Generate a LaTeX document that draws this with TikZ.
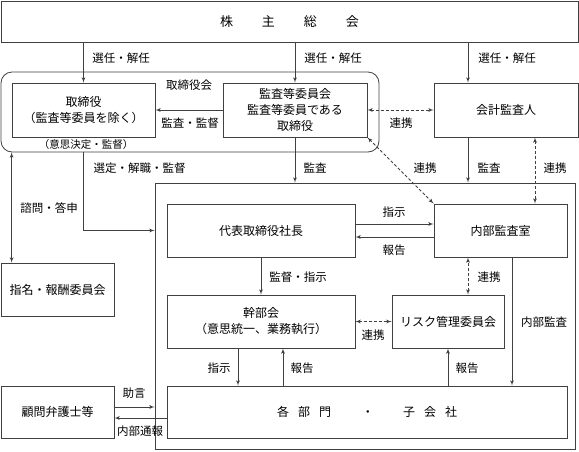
\documentclass[tikz,border=0pt]{standalone}
\usepackage{fontspec}
\setmainfont{Noto Sans CJK JP}
\usetikzlibrary{shapes,arrows}
\tikzstyle{block} = [rectangle, draw=black!75, fill=white, align=center, inner sep=0pt, font=\fontsize{12}{16}\selectfont]
\tikzstyle{frame} = [rectangle, draw=black!75, inner sep=0pt]
\tikzstyle{lbl} = [inner sep=0pt, font=\fontsize{11.5}{14}\selectfont]
\tikzstyle{line} = [draw=black!75, -latex']
\tikzstyle{link} = [draw=black!75, dash pattern=on 3pt off 2pt, latex'-latex']

\begin{document}
\begin{tikzpicture}[x=1pt, y=-1pt, line width=0.8pt]
\useasboundingbox (0,0) rectangle (579,451);
% frames
\node [frame, rounded corners=11pt, minimum width=378pt, minimum height=80pt] (board) at (190,112) {};
\node [frame, minimum width=420pt, minimum height=266pt] (shikkou) at (365,316) {};
% boxes
\node [block, minimum width=577pt, minimum height=41pt, font=\fontsize{13}{16}\selectfont] (soukai) at (289.5,21.5) {株\hspace{29pt}主\hspace{29pt}総\hspace{29pt}会};
\node [block, minimum width=143pt, minimum height=54pt] (torishimari) at (83.5,110) {取締役\\（監査等委員を除く）};
\node [block, minimum width=144pt, minimum height=54pt] (kansaiin) at (295,110) {監査等委員会\\監査等委員である\\取締役};
\node [block, minimum width=144pt, minimum height=54pt] (kaikei) at (506,110) {会計監査人};
\node [block, minimum width=113pt, minimum height=53pt] (shimei) at (57.5,289.5) {指名・報酬委員会};
\node [block, minimum width=188pt, minimum height=53pt] (shachou) at (261,230.5) {代表取締役社長};
\node [block, minimum width=133pt, minimum height=53pt] (naibu) at (500.5,230.5) {内部監査室};
\node [block, minimum width=188pt, minimum height=53pt] (kanbu) at (261,321.5) {幹部会\\（意思統一、業務執行）};
\node [block, minimum width=112pt, minimum height=53pt] (risk) at (448,321.5) {リスク管理委員会};
\node [block, minimum width=400pt, minimum height=52pt] (bumon) at (367,412) {各\hspace{9pt}部\hspace{9pt}門\hspace{31pt}・\hspace{29pt}子\hspace{9pt}会\hspace{9pt}社};
\node [block, minimum width=113pt, minimum height=52pt] (komon) at (57.5,412) {顧問弁護士等};
% labels
\node [lbl] (l-senin1) at (121,58) {選任・解任};
\node [lbl] (l-senin2) at (333,58) {選任・解任};
\node [lbl] (l-senin3) at (507,58) {選任・解任};
\node [lbl] (l-board) at (189,85) {取締役会};
\node [lbl] (l-kansa) at (190,123) {監査・監督};
\node [lbl, font=\fontsize{10.5}{13}\selectfont] (l-ishi) at (86,145) {（意思決定・監督）};
\node [lbl] (l-renkei1) at (401,123) {連携};
\node [lbl] (l-sentei) at (139.5,168) {選定・解職・監督};
\node [lbl] (l-kansa1) at (315,168) {監査};
\node [lbl] (l-renkei2) at (425,168) {連携};
\node [lbl] (l-kansa2) at (489,168) {監査};
\node [lbl] (l-renkei3) at (555,168) {連携};
\node [lbl] (l-shimon) at (49,208) {諮問・答申};
\node [lbl] (l-shiji1) at (394,212) {指示};
\node [lbl] (l-houkoku1) at (394,250) {報告};
\node [lbl] (l-kantoku) at (298,277) {監督・指示};
\node [lbl] (l-renkei4) at (489,277) {連携};
\node [lbl] (l-renkei5) at (373,335) {連携};
\node [lbl] (l-naibu) at (544,322) {内部監査};
\node [lbl] (l-shiji2) at (219,368) {指示};
\node [lbl] (l-houkoku2) at (302,368) {報告};
\node [lbl] (l-houkoku3) at (467,368) {報告};
\node [lbl] (l-jogen) at (134,393) {助言};
\node [lbl] (l-tsuho) at (140,431) {内部通報};
% connectors
\path [line] (soukai.south -| torishimari.north) -- (torishimari.north);
\path [line] (soukai.south -| kansaiin.north) -- (kansaiin.north);
\path [line] ([xshift=-38pt]soukai.south -| kaikei.north) -- ([xshift=-38pt]kaikei.north);
\path [line] (kansaiin.west) -- (torishimari.east);
\path [link] (kansaiin.east) -- (kaikei.west);
\path [line] (kansaiin.south) -- (kansaiin.south |- shikkou.north);
\path [line] ([xshift=-38pt]kaikei.south) -- ([xshift=-38pt]kaikei.south |- shikkou.north);
\path [link] ([xshift=29pt]kaikei.south) -- ([xshift=29pt]kaikei.south |- naibu.north);
\path [link] (kansaiin.south east) -- (naibu.north west);
\path [line] (board.south -| torishimari.south) |- (shikkou.west |- shachou.west);
\path [line, latex'-latex'] (torishimari.west |- board.south) -- (torishimari.west |- shimei.north);
\path [line] ([yshift=6.5pt]shachou.east) -- ([yshift=6.5pt]naibu.west);
\path [line] ([yshift=-6.5pt]naibu.west) -- ([yshift=-6.5pt]shachou.east);
\path [line] (shachou.south) -- (kanbu.north);
\path [link] (kanbu.east) -- (risk.west);
\path [link] ([xshift=20pt]risk.north) -- ([xshift=20pt]risk.north |- naibu.south);
\path [line] ([xshift=11.5pt]naibu.south) -- ([xshift=11.5pt]naibu.south |- bumon.north);
\path [line] ([xshift=-23pt]kanbu.south) -- ([xshift=-23pt]kanbu.south |- bumon.north);
\path [line] ([xshift=22pt]kanbu.south |- bumon.north) -- ([xshift=22pt]kanbu.south);
\path [line] (bumon.north -| risk.south) -- (risk.south);
\path [line] ([yshift=5pt]komon.east) -- ([yshift=5pt]komon.east -| shikkou.west);
\path [line] ([yshift=-6pt]bumon.west) -- ([yshift=-6pt]komon.east);
\end{tikzpicture}
\end{document}
